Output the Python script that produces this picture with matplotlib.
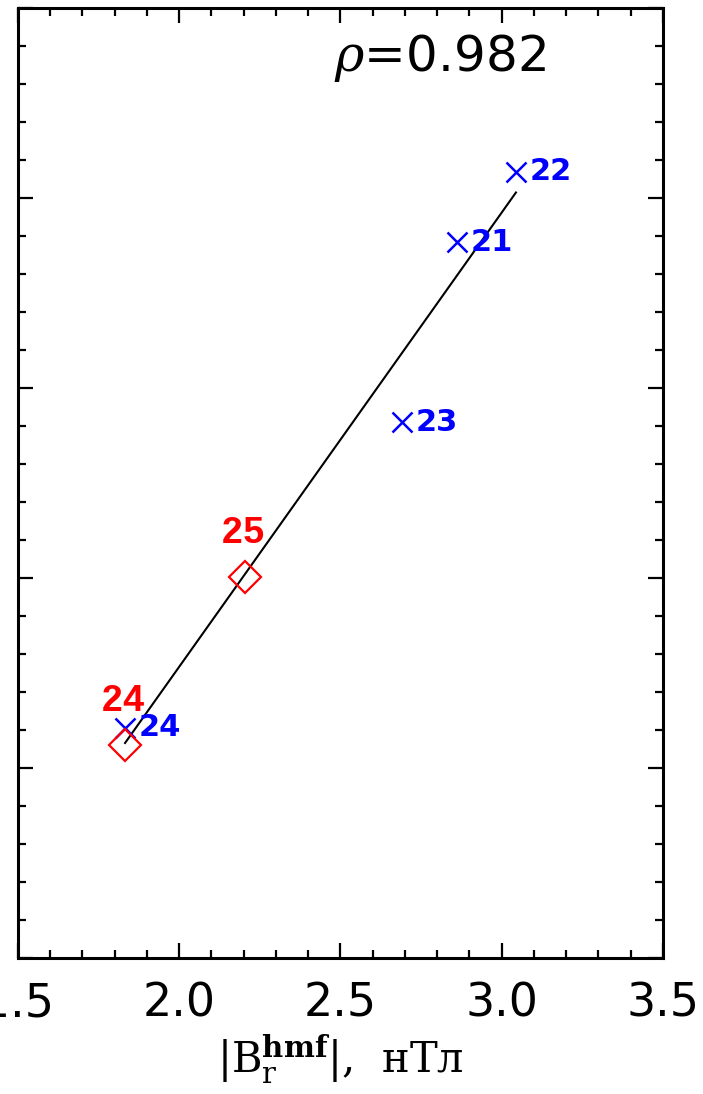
import numpy as np
import matplotlib
matplotlib.use("Agg")
import matplotlib.pyplot as plt
from matplotlib.ticker import MultipleLocator, NullFormatter

# cycles with observed values (crosses) and forecast cycles (diamonds)
cycles_obs = [21, 22, 23, 24]
b_obs = [2.861, 3.044, 2.691, 1.832]
y_obs = [3.768, 4.137, 2.821, 1.211]

cycles_pred = [24, 25]
b_pred = [1.832, 2.204]
y_pred = [1.121, 2.005]

plt.rcParams['mathtext.fontset'] = 'dejavuserif'

fig = plt.figure(figsize=(7.03, 10.94), dpi=100)
ax = fig.add_axes([0.0256, 0.1243, 0.9175, 0.8684])

# linear fit through the observed cycles
k, b0 = np.polyfit(b_obs, y_obs, 1)
xf = np.array([min(b_obs), max(b_obs)])
ax.plot(xf, k * xf + b0, color='black', lw=1.5)
rho = np.corrcoef(b_obs, y_obs)[0, 1]

ax.plot(b_obs, y_obs, 'x', color='blue', ms=14, mew=1.8)
for c, x, y in zip(cycles_obs, b_obs, y_obs):
    ax.annotate(str(c), (x, y), xytext=(10, 0), textcoords='offset points',
                ha='left', va='center', color='blue', fontsize=22,
                fontweight='bold', family='DejaVu Sans')

ax.plot(b_pred, y_pred, 'D', mfc='none', mec='red', ms=16, mew=1.6)
for c, x, y in zip(cycles_pred, b_pred, y_pred):
    ax.annotate(str(c), (x, y), xytext=(-1, 32), textcoords='offset points',
                ha='center', va='center', color='red', fontsize=27,
                family='Liberation Mono', fontweight='bold')

ax.text(0.49, 0.947, r'$\rho$=%.3f' % rho, transform=ax.transAxes,
        fontsize=36, ha='left', va='center', family='DejaVu Sans')

ax.set_xlim(1.5, 3.5)
ax.set_ylim(0, 5)
ax.xaxis.set_major_locator(MultipleLocator(0.5))
ax.xaxis.set_minor_locator(MultipleLocator(0.1))
ax.yaxis.set_major_locator(MultipleLocator(1))
ax.yaxis.set_minor_locator(MultipleLocator(0.2))
ax.xaxis.set_major_formatter(plt.FormatStrFormatter('%.1f'))
ax.yaxis.set_major_formatter(NullFormatter())

ax.tick_params(which='both', direction='in', top=True, right=True, width=1.6)
ax.tick_params(which='major', length=11, labelsize=33, pad=17)
ax.tick_params(which='minor', length=6)
for s in ax.spines.values():
    s.set_linewidth(2.2)

ax.set_xlabel(r'$|\mathrm{B}_\mathrm{r}^{\mathbf{hmf}}|$,  нТл',
              fontsize=30, family='DejaVu Serif', labelpad=4)

fig.savefig('out.png', dpi=100)
